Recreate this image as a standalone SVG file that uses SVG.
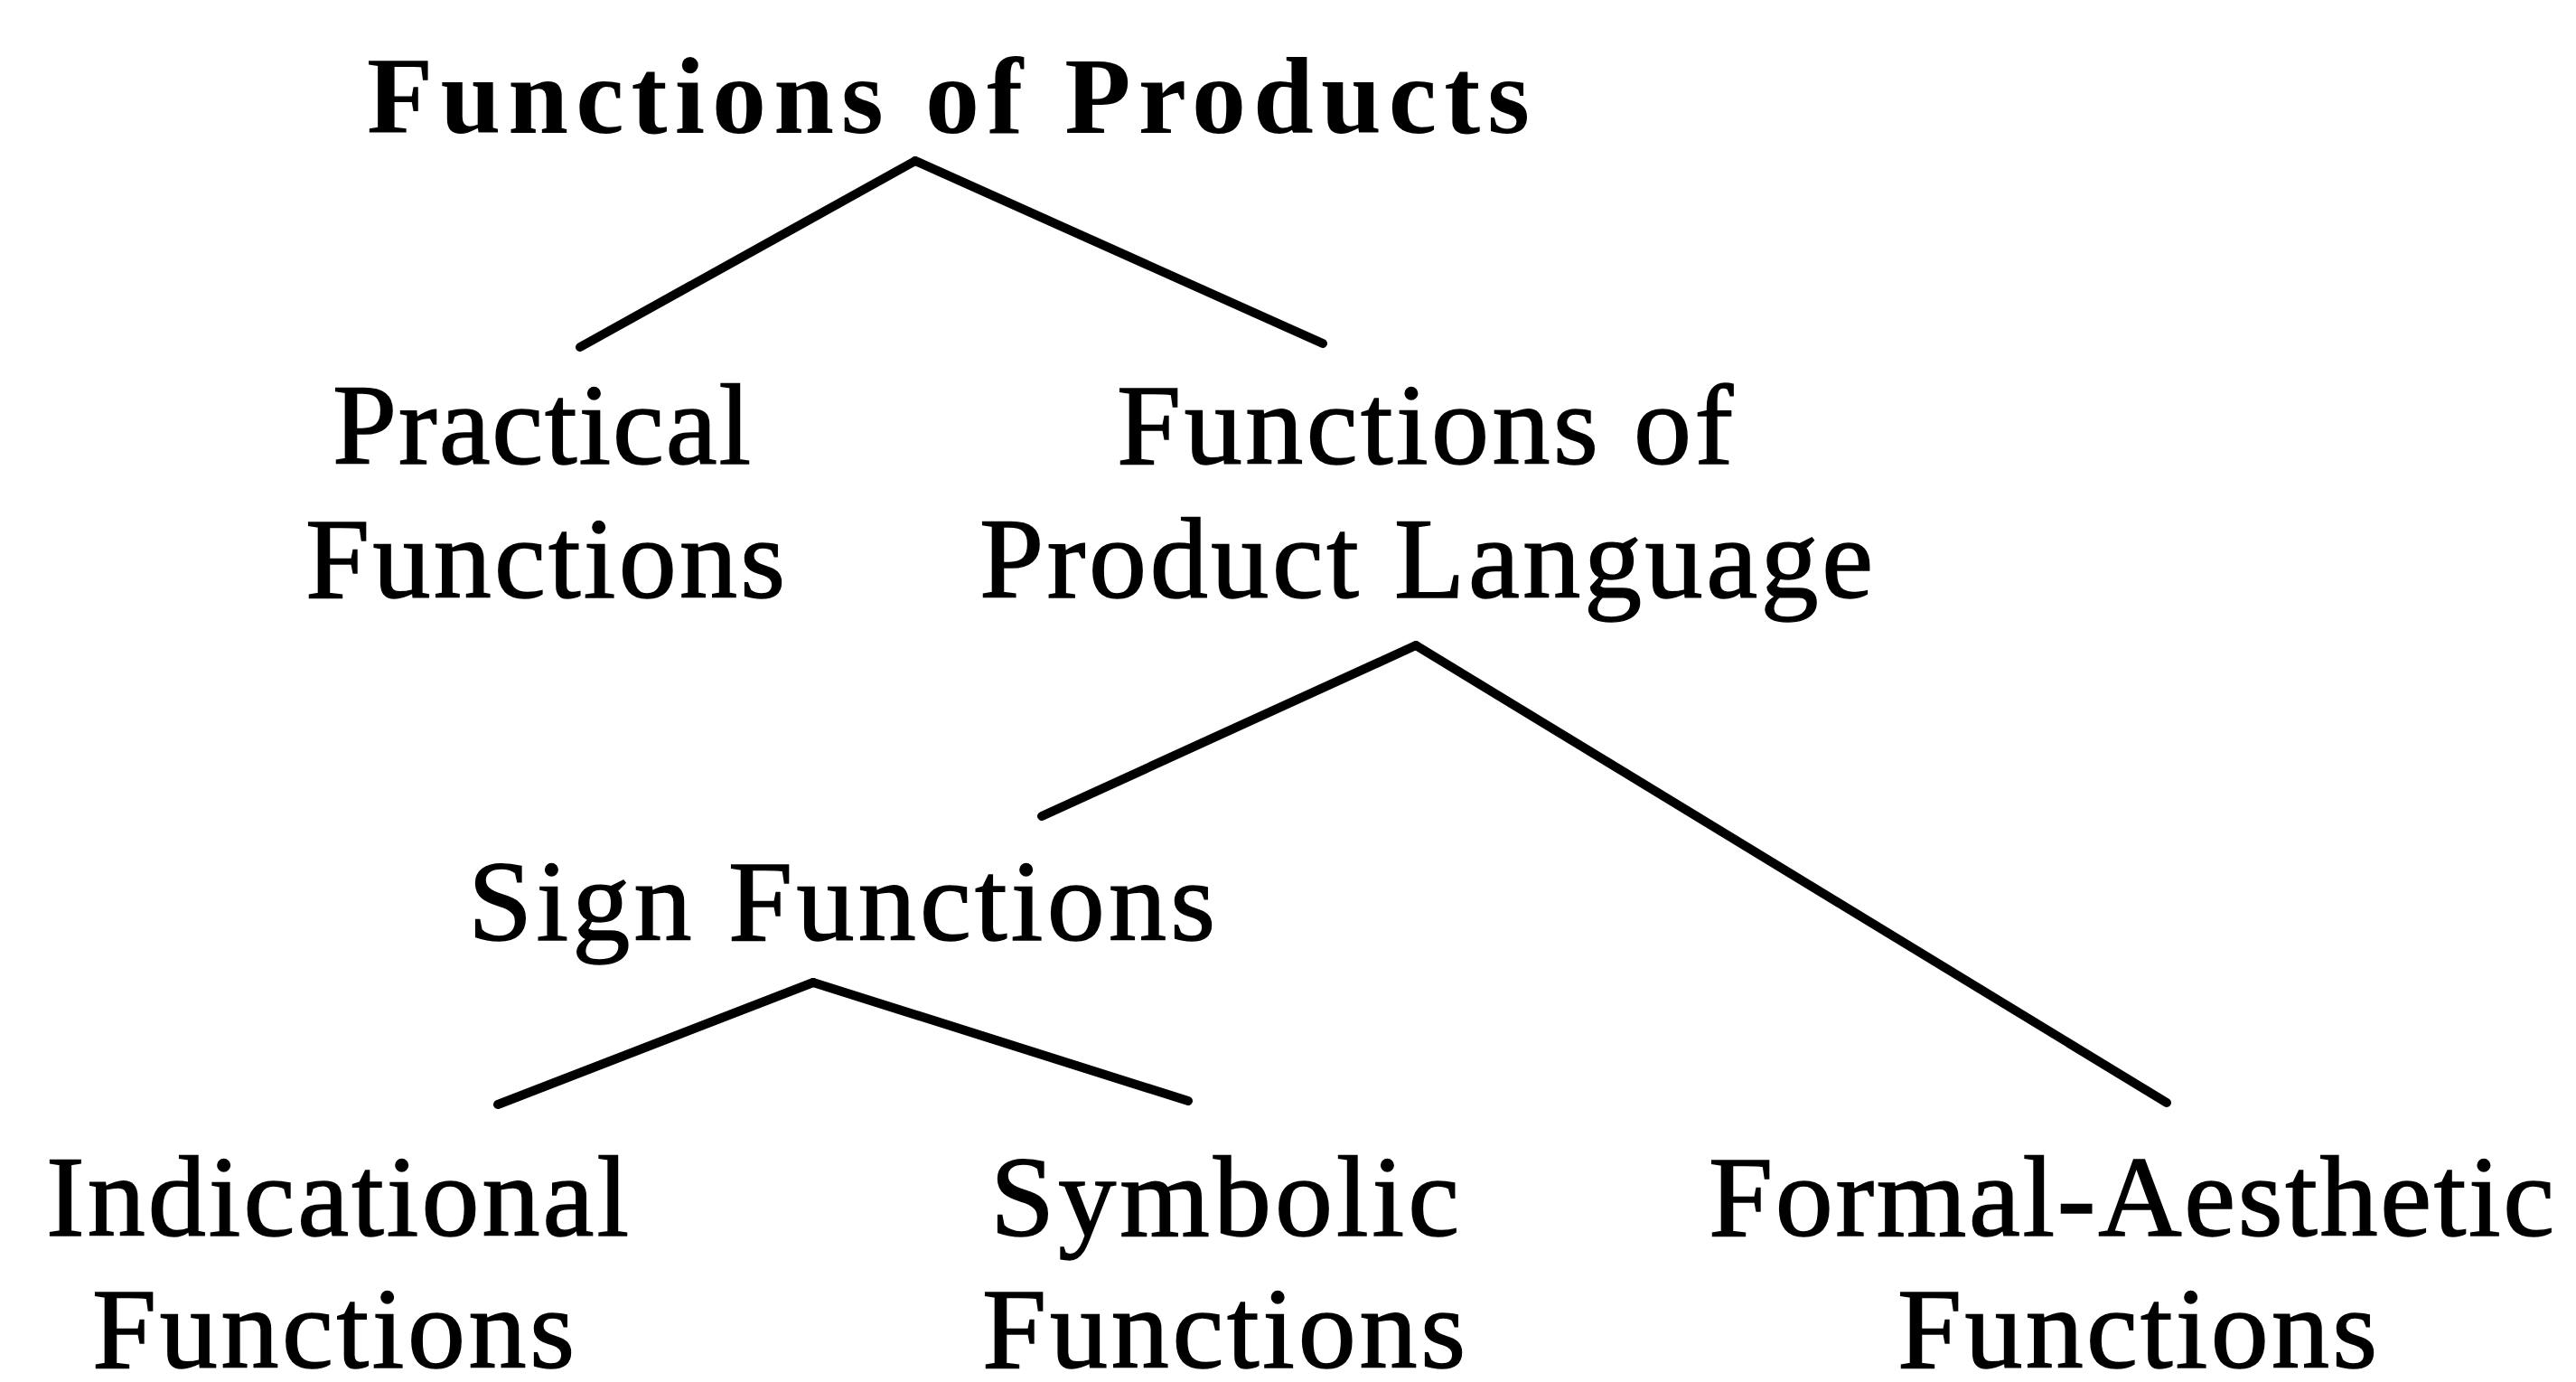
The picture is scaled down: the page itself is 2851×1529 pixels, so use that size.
<svg xmlns="http://www.w3.org/2000/svg" width="2851" height="1529" viewBox="0 0 2851 1529">
  <style>
    .lbl { font-family: "Liberation Serif", "Times New Roman", serif; font-size: 128px; fill: #000; stroke: #000; stroke-width: 1.5; }
    .title { font-family: "Liberation Serif", "Times New Roman", serif; font-size: 120px; font-weight: bold; fill: #000; }
    .edge { stroke: #000; stroke-width: 10; stroke-linecap: round; fill: none; }
  </style>
  <rect width="2851" height="1529" fill="#fff"/>

  <!-- tree branches -->
  <g id="connectors">
    <line class="edge" x1="1013" y1="178" x2="642" y2="384"/>
    <line class="edge" x1="1013" y1="178" x2="1464" y2="380"/>
    <line class="edge" x1="1567" y1="714" x2="1153" y2="903"/>
    <line class="edge" x1="1567" y1="714" x2="2398" y2="1220"/>
    <line class="edge" x1="900" y1="1087" x2="551" y2="1222"/>
    <line class="edge" x1="900" y1="1087" x2="1315" y2="1218"/>
  </g>

  <g id="functions-of-products">
    <text class="title" x="406" y="147" textLength="1287" lengthAdjust="spacing">Functions of Products</text>
  </g>

  <g id="practical-functions">
    <text class="lbl" x="368" y="513" textLength="463" lengthAdjust="spacing">Practical</text>
    <text class="lbl" x="338" y="661" textLength="531" lengthAdjust="spacing">Functions</text>
  </g>

  <g id="product-language">
    <text class="lbl" x="1236" y="513" textLength="682" lengthAdjust="spacing">Functions of</text>
    <text class="lbl" x="1084" y="661" textLength="989" lengthAdjust="spacing">Product Language</text>
  </g>

  <g id="sign-functions">
    <text class="lbl" x="518" y="1040" textLength="827" lengthAdjust="spacing">Sign Functions</text>
  </g>

  <g id="indicational-functions">
    <text class="lbl" x="51" y="1367" textLength="645" lengthAdjust="spacing">Indicational</text>
    <text class="lbl" x="102" y="1513" textLength="534" lengthAdjust="spacing">Functions</text>
  </g>

  <g id="symbolic-functions">
    <text class="lbl" x="1096" y="1367" textLength="519" lengthAdjust="spacing">Symbolic</text>
    <text class="lbl" x="1087" y="1513" textLength="535" lengthAdjust="spacing">Functions</text>
  </g>

  <g id="formal-aesthetic-functions">
    <text class="lbl" x="1891" y="1367" textLength="936" lengthAdjust="spacing">Formal-Aesthetic</text>
    <text class="lbl" x="2100" y="1513" textLength="531" lengthAdjust="spacing">Functions</text>
  </g>
</svg>
